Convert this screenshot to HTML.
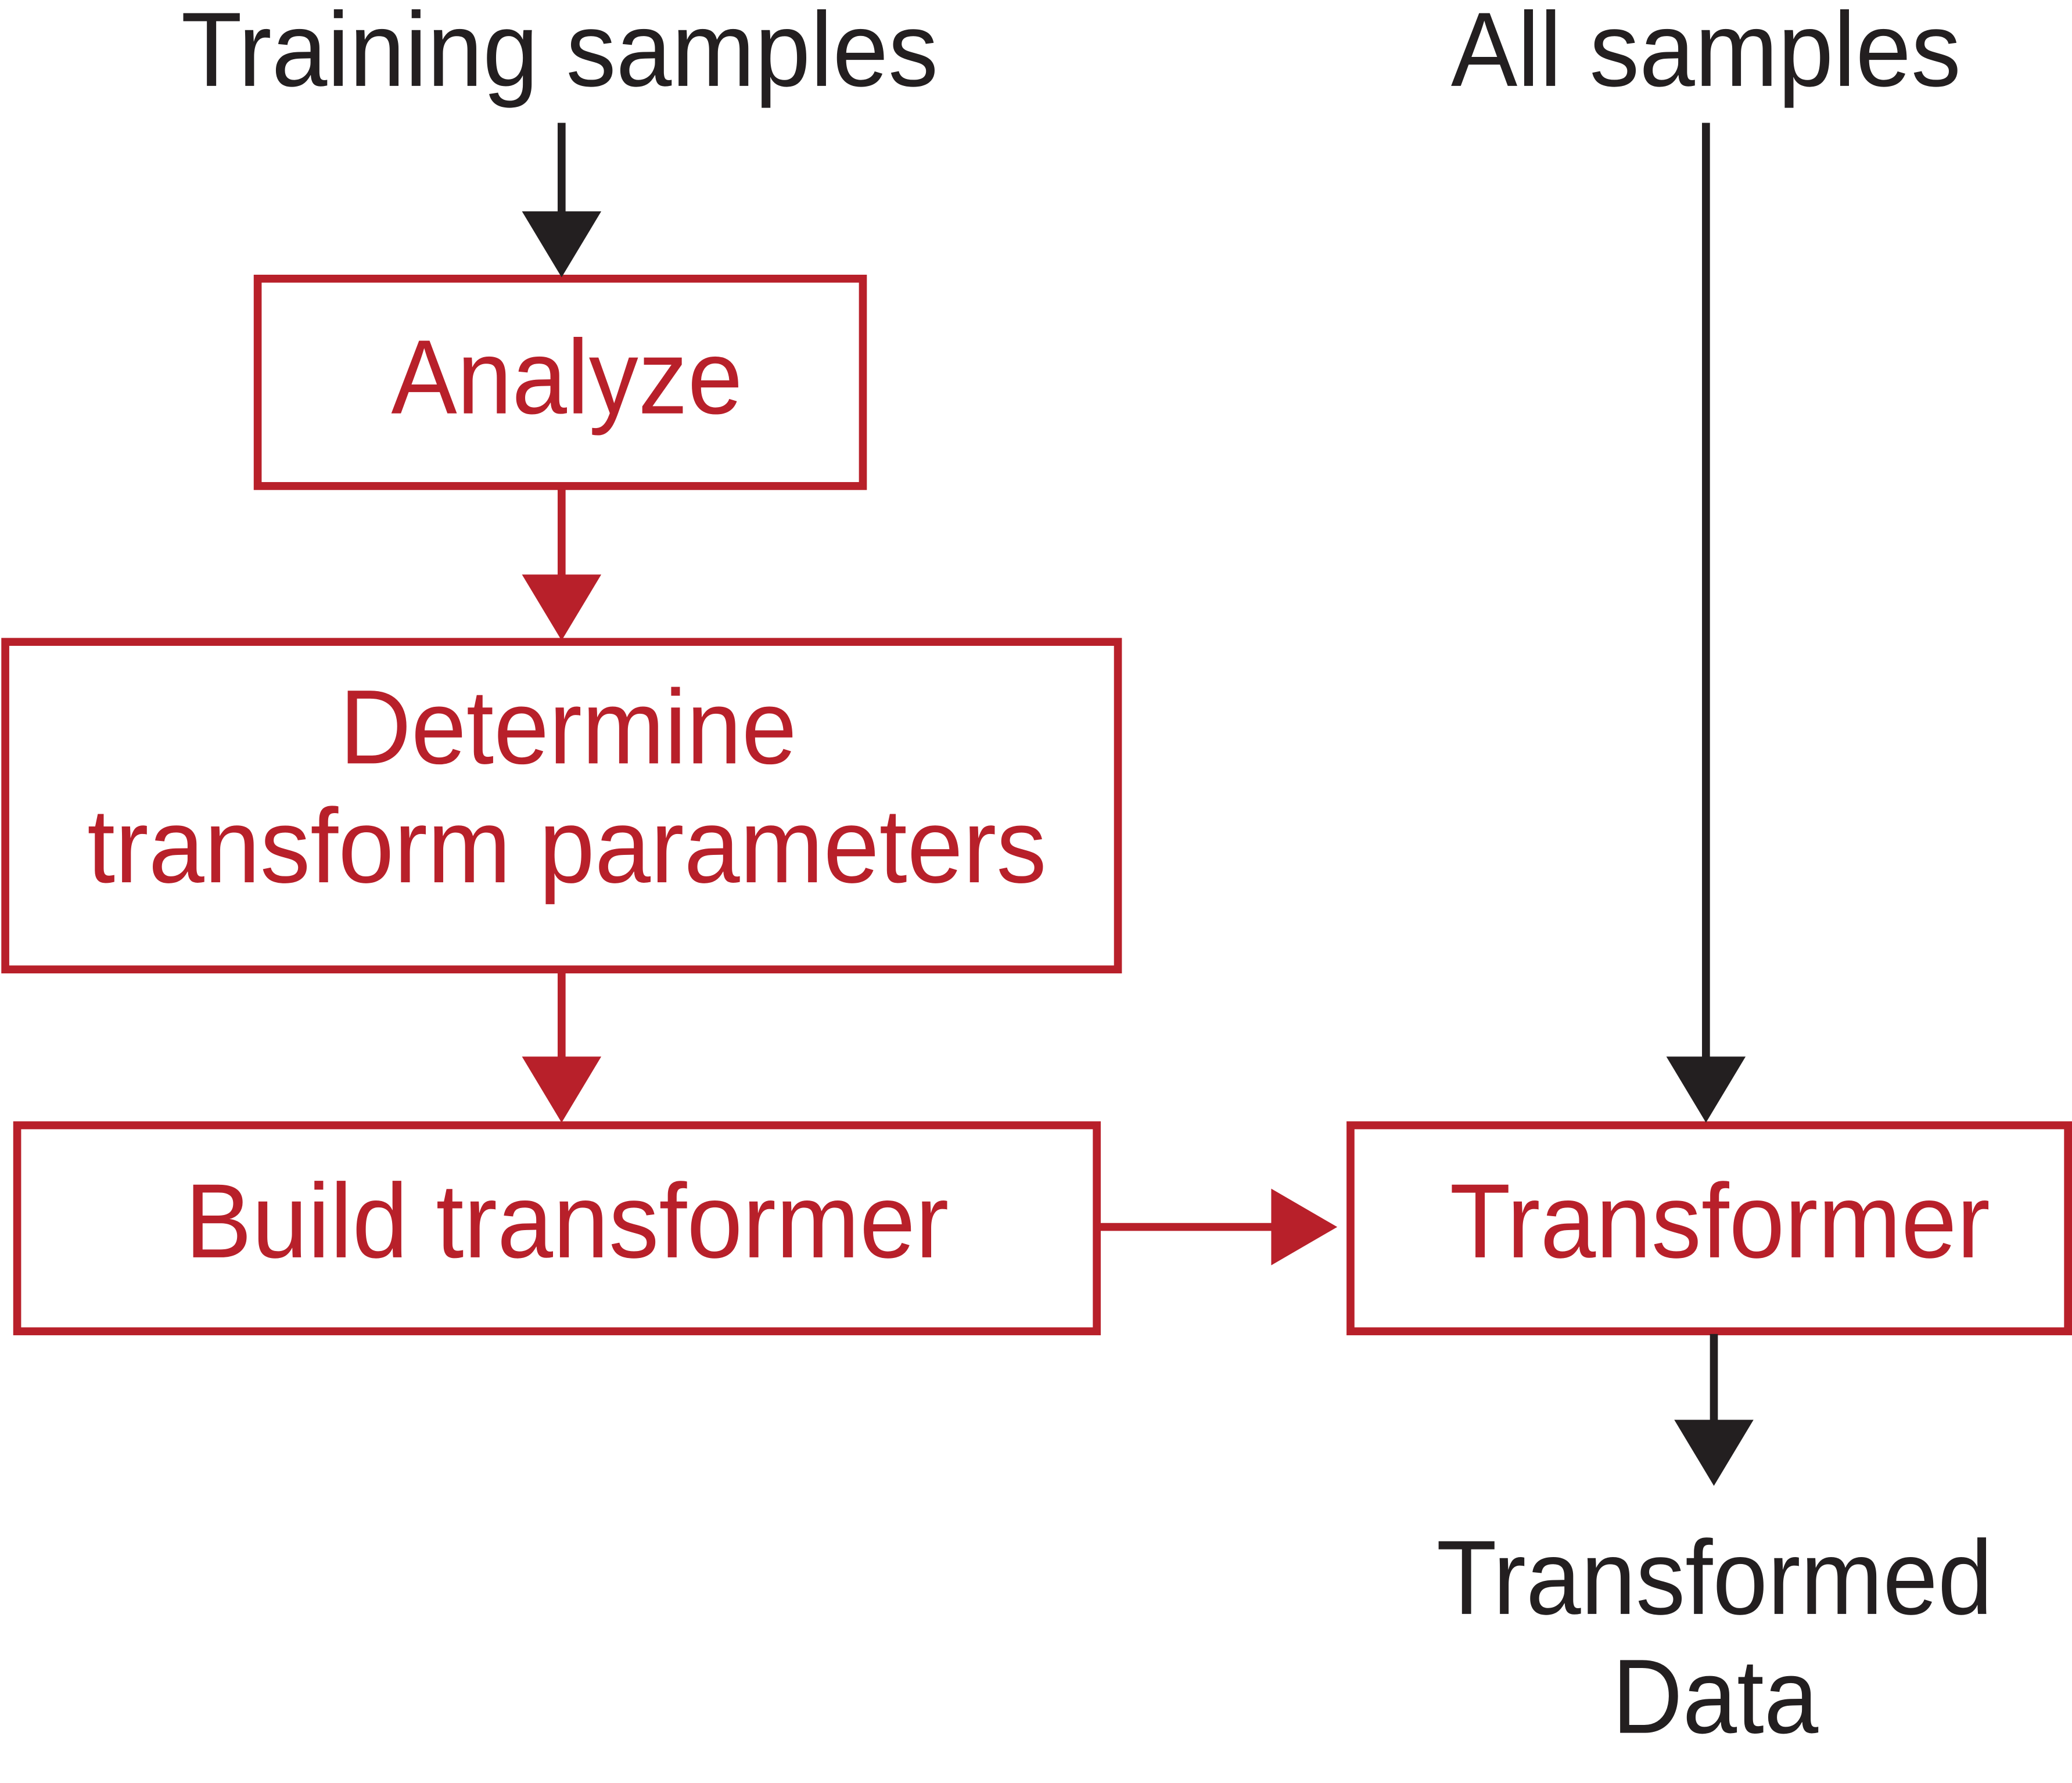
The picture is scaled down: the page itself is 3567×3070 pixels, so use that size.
<!DOCTYPE html>
<html><head><meta charset="utf-8"><style>
html,body{margin:0;padding:0;background:#fff;}
svg{display:block;}
</style></head><body>
<svg width="3567" height="3070" viewBox="0 0 1568 1350" preserveAspectRatio="none" xmlns="http://www.w3.org/2000/svg">
<g font-family="'Liberation Sans', Arial, sans-serif" font-size="80">
<!-- black text -->
<g fill="#231f20">
<text x="137" y="65" textLength="573" lengthAdjust="spacingAndGlyphs">Training samples</text>
<text x="1098" y="65" textLength="386" lengthAdjust="spacingAndGlyphs">All samples</text>
<text x="1087" y="1222" textLength="421" lengthAdjust="spacingAndGlyphs">Transformed</text>
<text x="1220" y="1312" textLength="156" lengthAdjust="spacingAndGlyphs">Data</text>
</g>
<!-- red text -->
<g fill="#b8202a">
<text x="296" y="313" textLength="266" lengthAdjust="spacingAndGlyphs">Analyze</text>
<text x="257" y="578" textLength="346" lengthAdjust="spacingAndGlyphs">Determine</text>
<text x="66" y="668" textLength="726" lengthAdjust="spacingAndGlyphs">transform parameters</text>
<text x="140" y="952" textLength="578" lengthAdjust="spacingAndGlyphs">Build transformer</text>
<text x="1097" y="952" textLength="409" lengthAdjust="spacingAndGlyphs">Transformer</text>
</g>
</g>
<!-- boxes -->
<g fill="none" stroke="#b8202a" stroke-width="6">
<rect x="195" y="211" width="458" height="157"/>
<rect x="4" y="486" width="842" height="248"/>
<rect x="13" y="852" width="817" height="156"/>
<rect x="1022" y="852" width="543" height="156"/>
</g>
<!-- red connectors -->
<g stroke="#b8202a" stroke-width="6">
<line x1="425" y1="368" x2="425" y2="440"/>
<line x1="425" y1="734" x2="425" y2="805"/>
<line x1="830" y1="929" x2="966" y2="929"/>
</g>
<g fill="#b8202a">
<polygon points="395,435 455,435 425,485"/>
<polygon points="395,800 455,800 425,850"/>
<polygon points="962,900 962,958 1012,929"/>
</g>
<!-- black connectors -->
<g stroke="#231f20" stroke-width="6">
<line x1="425" y1="93" x2="425" y2="165"/>
<line x1="1291" y1="93" x2="1291" y2="805"/>
<line x1="1297" y1="1010" x2="1297" y2="1080"/>
</g>
<g fill="#231f20">
<polygon points="395,160 455,160 425,210"/>
<polygon points="1261,800 1321,800 1291,850"/>
<polygon points="1267,1075 1327,1075 1297,1125"/>
</g>
</svg>
</body></html>
